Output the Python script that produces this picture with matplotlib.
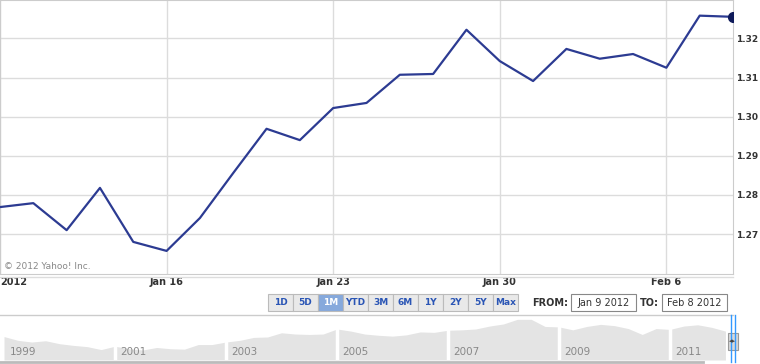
import matplotlib
matplotlib.use('Agg')
import matplotlib.pyplot as plt
from matplotlib.patches import Rectangle

# EUR/USD daily closes, trading days Jan 9 - Feb 8 2012
dates = ['Jan 9', 'Jan 10', 'Jan 11', 'Jan 12', 'Jan 13',
         'Jan 16', 'Jan 17', 'Jan 18', 'Jan 19', 'Jan 20',
         'Jan 23', 'Jan 24', 'Jan 25', 'Jan 26', 'Jan 27',
         'Jan 30', 'Jan 31', 'Feb 1', 'Feb 2', 'Feb 3',
         'Feb 6', 'Feb 7', 'Feb 8']
rate = [1.2769, 1.2779, 1.2710, 1.2818, 1.2680,
        1.2657, 1.2741, 1.2856, 1.2969, 1.2940,
        1.3022, 1.3035, 1.3107, 1.3109, 1.3222,
        1.3142, 1.3091, 1.3173, 1.3148, 1.3160,
        1.3125, 1.3258, 1.3255]
tick_pos = [0, 5, 10, 15, 20]
tick_labels = ['2012', 'Jan 16', 'Jan 23', 'Jan 30', 'Feb 6']
y_ticks = [1.27, 1.28, 1.29, 1.30, 1.31, 1.32]

# navigator: rough quarterly rate 1999 - 2012
nav_rate = [1.17, 1.08, 1.04, 1.07, 1.00, 0.96, 0.93, 0.86,
            0.94, 0.88, 0.85, 0.91, 0.88, 0.87, 0.98, 0.98,
            1.04, 1.08, 1.15, 1.16, 1.26, 1.23, 1.22, 1.23,
            1.35, 1.30, 1.23, 1.20, 1.18, 1.21, 1.28, 1.27,
            1.32, 1.33, 1.35, 1.42, 1.47, 1.58, 1.58, 1.41,
            1.40, 1.33, 1.41, 1.46, 1.43, 1.36, 1.22, 1.36,
            1.34, 1.42, 1.45, 1.39, 1.30]
nav_years = [1999 + i * 0.25 for i in range(len(nav_rate))]
nav_labels = [1999, 2001, 2003, 2005, 2007, 2009, 2011]

buttons = ['1D', '5D', '1M', 'YTD', '3M', '6M', '1Y', '2Y', '5Y', 'Max']

W, H = 760, 364
fig = plt.figure(figsize=(W / 100, H / 100), dpi=100)
fig.patch.set_facecolor('white')

grid_c = '#dcdcdc'

# main chart
ax = fig.add_axes([0, 1 - 274 / H, 733 / W, 274 / H])
ax.plot(range(len(rate)), rate, color='#2c3b92', lw=1.6, zorder=3)
ax.plot(len(rate) - 1, rate[-1], 'o', color='#0e1a5a', ms=7, zorder=4)
ax.set_xlim(0, len(rate) - 1)
ax.set_ylim(1.2598, 1.3298)
ax.set_yticks(y_ticks)
ax.set_yticklabels(['%.2f' % v for v in y_ticks])
ax.yaxis.tick_right()
ax.set_xticks(tick_pos)
ax.set_xticklabels([])
ax.tick_params(length=0, pad=2)
for lab in ax.get_yticklabels():
    lab.set_fontweight('bold')
    lab.set_fontsize(6.5)
    lab.set_color('#333333')
ax.grid(True, color=grid_c, lw=1)
for s in ax.spines.values():
    s.set_color('#cccccc')
ax.text(0.006, 0.028, '\u00a9 2012 Yahoo! Inc.', transform=ax.transAxes,
        fontsize=6.5, color='#888888', va='center')

# x labels
for p, lab in zip(tick_pos, tick_labels):
    ha = 'left' if p == 0 else 'center'
    ax.text(p, -0.012, lab, transform=ax.get_xaxis_transform(), ha=ha, va='top',
            fontsize=7, fontweight='bold', color='#333333')

# navigator
nav = fig.add_axes([4 / W, (H - 360) / H, 727 / W, 45 / H])
nav.fill_between(nav_years, 0.612, nav_rate, color='#e4e4e4', lw=0)
nav.set_xlim(1999, 2012.1)
nav.set_ylim(0.612, 1.683)
nav.axis('off')
for y in nav_labels:
    if y > 1999:
        nav.axvline(y, color='white', lw=2.5)
    nav.text(y + 0.1, 0.8, str(y), fontsize=7.5, color='#888888', va='center')

# overlay for widgets
ui = fig.add_axes([0, 0, 1, 1])
ui.set_xlim(0, W)
ui.set_ylim(H, 0)
ui.axis('off')
ui.patch.set_alpha(0)

ui.plot([0, 733], [276.5, 276.5], color='#dddddd', lw=1)
ui.plot([0, 733], [315, 315], color='#cccccc', lw=1)
ui.plot([0, 703], [362, 362], color='#bbbbbb', lw=2)

bx = 268
for b in buttons:
    sel = b == '1M'
    ui.add_patch(Rectangle((bx, 294), 25, 17, facecolor='#86a9dc' if sel else '#e9e9e9',
                           edgecolor='#bbbbbb', lw=0.8))
    ui.text(bx + 12.5, 302.5, b, ha='center', va='center', fontsize=6.5,
            fontweight='bold', color='white' if sel else '#2a55b5')
    bx += 25

ui.text(568, 302.5, 'FROM:', ha='right', va='center', fontsize=7,
        fontweight='bold', color='#333333')
ui.add_patch(Rectangle((571, 294), 65, 17, facecolor='white', edgecolor='#888888', lw=0.8))
ui.text(603.5, 302.5, 'Jan 9 2012', ha='center', va='center', fontsize=7, color='#333333')
ui.text(659, 302.5, 'TO:', ha='right', va='center', fontsize=7,
        fontweight='bold', color='#333333')
ui.add_patch(Rectangle((662, 294), 65, 17, facecolor='white', edgecolor='#888888', lw=0.8))
ui.text(694.5, 302.5, 'Feb 8 2012', ha='center', va='center', fontsize=7, color='#333333')

# range handle
ui.plot([730.5, 730.5], [315, 362], color='#3399ff', lw=1)
ui.plot([735, 735], [315, 362], color='#3399ff', lw=1)
ui.add_patch(Rectangle((727.5, 333), 10, 17, facecolor='#d8d8d8', edgecolor='#999999', lw=0.8))
ui.text(732.7, 341.5, '\u25c2\u25b8', ha='center', va='center', fontsize=5, color='#444444')

fig.savefig('out.png', dpi=100)
